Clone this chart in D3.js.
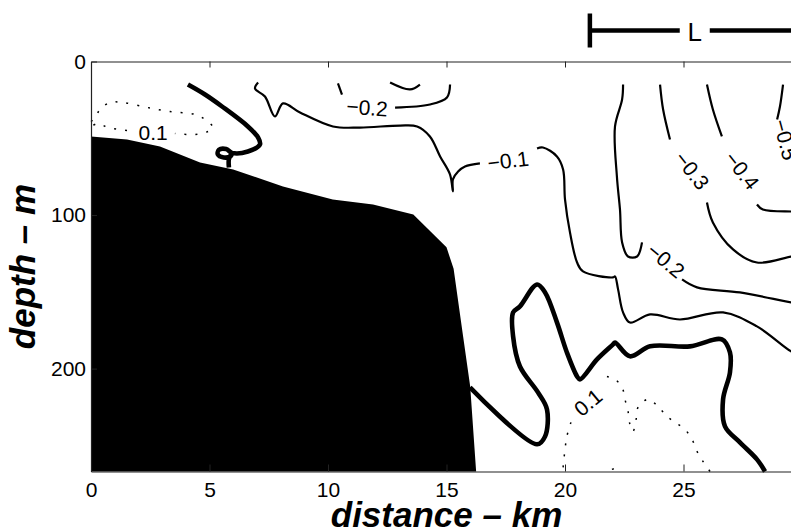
<!DOCTYPE html>
<html>
<head>
<meta charset="utf-8">
<style>
  body { margin: 0; background: #fff; }
  svg { display: block; font-family: "Liberation Sans", Arial, Helvetica, sans-serif; }
  .tick text { font-size: 21px; fill: #000; }
  .axis-title { font-size: 35px; font-weight: bold; font-style: italic; }
  .clabel { font-size: 21px; }
</style>
<script src="https://d3js.org/d3.v7.min.js"></script>
</head>
<body>
<div class="chart"></div>
<script>
// tick values
const xTicks = [0, 5, 10, 15, 20, 25];
const yTicks = [0, 100, 200];

// bottom profile [km, depth m]
const bathymetry = [[0, 48.8], [1.52, 50.8], [2.91, 55.3], [4.6, 65.8], [6.0, 70.3], [8.1, 81.4],
  [10.2, 89.8], [11.9, 93.1], [13.6, 99.6], [15.0, 121], [15.3, 135], [15.7, 179], [16.0, 211.6], [16.25, 267]];

// contour pieces, each [km, depth]; gaps are where the labels sit
const zeroShelf = [[4.09, 15], [4.81, 21.5], [5.53, 29.3], [6.62, 42.3], [7.05, 49.5], [7.13, 54],
  [6.62, 58.6], [5.95, 59.5], [5.7, 57.0], [5.4, 57.5], [5.35, 60.5], [5.6, 62.5], [5.9, 61.5],
  [5.95, 59.5], [5.82, 63.5], [5.82, 69]];
const zeroOffshore = [[15.99, 212.2], [18.82, 249.3], [19.16, 244.1], [19.24, 226.6], [18.86, 215.5],
  [18.10, 198.6], [17.81, 179], [17.81, 163.4], [18.10, 159.5], [18.82, 145.2], [19.16, 150.4],
  [19.66, 169.9], [20.08, 189.5], [20.51, 205.1], [20.63, 207], [21.35, 194], [22.03, 184.2],
  [22.11, 183], [22.74, 192], [23.59, 185.5], [25.27, 185.5], [26.62, 181], [26.96, 189.5],
  [26.96, 202.5], [26.67, 220], [26.75, 237.6], [27.38, 248], [28.10, 259.1], [28.44, 267]];

const m01a = [[7.05, 13.7], [6.92, 17.6], [7.34, 22.8], [7.76, 35.8], [8.10, 27.3], [8.82, 33.2],
  [10.21, 42.3], [11.35, 43.0], [13.04, 41.7], [13.76, 42.3], [14.30, 48.8], [14.73, 61.8],
  [15.15, 73.6], [15.27, 84.6], [15.27, 76.8], [15.49, 71.6], [15.78, 68.4], [16.41, 66.4]];
const m01b = [[18.82, 56.6], [19.07, 56.0], [19.66, 61.8], [19.92, 70.3], [20.0, 89.8], [20.21, 111.3],
  [20.51, 130.9], [20.76, 136.7], [22.03, 140.6], [22.11, 140], [22.24, 148.4], [22.45, 163.4],
  [22.74, 170], [23.59, 164.7], [24.85, 168], [26.67, 163.4], [28.10, 172.5], [29.54, 188.8], [30, 192]];

const m02a = [[10.42, 14.3], [10.59, 21.5]];
const m02b = [[12.83, 30], [14.30, 28], [15.02, 23.4], [15.15, 15]];
const m02c = [[12.62, 13.7], [13.46, 18.2], [13.88, 15]];
const m02d = [[22.45, 15], [22.41, 24.7], [22.11, 42.3], [22.19, 74.9], [22.32, 96.4], [22.41, 117.8],
  [22.66, 127], [23.04, 127], [23.25, 117.8]];
const m02e = [[24.94, 141.9], [25.57, 147.1], [27.38, 150.4], [29.54, 156.9], [30, 158]];

const m03a = [[24.01, 15], [24.14, 31.3], [24.43, 50.8]];
const m03b = [[25.99, 91.8], [26.24, 104.8], [27.09, 122.4], [28.10, 130.9], [29.54, 127], [30, 126]];

const m04a = [[25.99, 15], [26.24, 31.3], [26.62, 48.8]];
const m04b = [[28.10, 93.1], [28.35, 96.4], [29.54, 97.7], [30, 97.7]];

const m05a = [[29.20, 15], [29.07, 29.3], [28.95, 37.8]];

const p01a = [[0, 39.1], [0.17, 36.5], [0.38, 31.3], [0.80, 26.7], [1.35, 26.7], [2.36, 29.9], [3.33, 32.6],
  [4.39, 34.5], [4.81, 37.8], [5.15, 43], [4.94, 45.6], [4.39, 47.5], [3.54, 46.9]];
const p01b = [[1.52, 44.9], [0.72, 43], [0.30, 40.4], [0, 42.3]];
const p01c = [[19.92, 264.3], [20.0, 252.6], [20.08, 244.1], [20.25, 235]];
const p01d = [[21.77, 205.1], [22.11, 207], [22.41, 212.2], [22.53, 220], [22.66, 227.9], [22.74, 236.3],
  [22.87, 240.9], [23.0, 233], [23.08, 225.3], [23.5, 220], [23.92, 224.6], [24.3, 231.1], [24.64, 235],
  [25.06, 239.6], [25.36, 246.1], [25.57, 253.9], [25.82, 260.4], [26.12, 267]];
const p01e = [[21.98, 265.6], [22.4, 263.5]];

const contourLevels = [0, 0, -0.1, -0.1, -0.2, -0.2, -0.2, -0.2, -0.2, -0.3, -0.3, -0.4, -0.4, -0.5,
  0.1, 0.1, 0.1, 0.1, 0.1];
const contourPieces = [zeroShelf, zeroOffshore, m01a, m01b, m02a, m02b, m02c, m02d, m02e, m03a, m03b,
  m04a, m04b, m05a, p01a, p01b, p01c, p01d, p01e];

// contour labels: [km, depth, angle]
const labelText = ["0.1", "−0.2", "−0.1", "−0.2", "−0.3", "−0.4", "−0.5", "0.1"];
const labelAt = [[2.62, 46.2, 0], [11.65, 30, 4], [17.6, 64.5, -7], [24.26, 129.6, 40],
  [25.36, 71, 52], [27.47, 71, 52], [29.3, 50.8, 75], [20.97, 222, -40]];

// length scale bar along the top, km
const scaleBar = [21.05, 29.9];
const scaleBarLabel = "L";

const width = 791, height = 532;
const maxDepth = 267;

const svg = d3.select(".chart").append("svg")
    .attr("width", width)
    .attr("height", height)
    .style("background", "#fff");

const x = d3.scaleLinear().domain([0, 30]).range([91, 802]);
const y = d3.scaleLinear().domain([0, maxDepth]).range([61.5, 471.5]);

const line = d3.line()
    .x(d => x(d[0]))
    .y(d => y(d[1]))
    .curve(d3.curveCatmullRom.alpha(0.5));

// contours
svg.append("g").selectAll("path")
    .data(contourPieces)
    .enter().append("path")
    .attr("d", line)
    .attr("fill", "none")
    .attr("stroke", "#000")
    .attr("stroke-linejoin", "round")
    .attr("stroke-width", (d, i) => contourLevels[i] === 0 ? 4.6 : (contourLevels[i] > 0 ? 1.5 : 2.2))
    .attr("stroke-dasharray", (d, i) => contourLevels[i] > 0 ? "2,9" : null);

// bottom, filled black
const area = d3.area()
    .x(d => x(d[0]))
    .y0(y(maxDepth))
    .y1(d => y(d[1]));
svg.append("path")
    .datum(bathymetry)
    .attr("d", area)
    .attr("fill", "#000");

// contour labels
svg.append("g").selectAll("text")
    .data(labelText)
    .enter().append("text")
    .attr("class", "clabel")
    .attr("text-anchor", "middle")
    .attr("dominant-baseline", "central")
    .attr("transform", (d, i) => `translate(${x(labelAt[i][0])},${y(labelAt[i][1])}) rotate(${labelAt[i][2]})`)
    .text(d => d);

// axes, ticks pointing in
const axisColor = "#222";
svg.append("g")
    .attr("transform", `translate(0,${y(0)})`)
    .style("color", axisColor)
    .call(d3.axisTop(x).tickValues(xTicks.slice(1)).tickSizeInner(-6).tickSizeOuter(0).tickFormat(""));
svg.append("g")
    .attr("transform", `translate(0,${y(maxDepth)})`)
    .style("color", axisColor)
    .call(d3.axisBottom(x).tickValues(xTicks).tickSizeInner(-7).tickSizeOuter(0).tickPadding(11));
svg.append("g")
    .attr("transform", `translate(${x(0)},0)`)
    .style("color", axisColor)
    .call(d3.axisLeft(y).tickValues(yTicks).tickSizeInner(-6).tickSizeOuter(0).tickPadding(5));
svg.selectAll(".domain").attr("stroke-width", 1.2);

// axis titles
svg.append("text")
    .attr("class", "axis-title")
    .attr("text-anchor", "middle")
    .attr("x", (x(0) + x(30)) / 2)
    .attr("y", 527)
    .text("distance – km");
svg.append("text")
    .attr("class", "axis-title")
    .attr("text-anchor", "middle")
    .attr("transform", `translate(35,${(y(0) + y(maxDepth)) / 2}) rotate(-90)`)
    .text("depth – m");

// scale bar
const barY = 30.5, gap = 15;
const bx0 = x(scaleBar[0]), bx1 = x(scaleBar[1]), bmid = (bx0 + bx1) / 2;
const bar = svg.append("g").attr("stroke", "#000").attr("stroke-width", 4.5);
bar.append("line").attr("x1", bx0).attr("x2", bx0).attr("y1", barY - 17).attr("y2", barY + 17);
bar.append("line").attr("x1", bx1).attr("x2", bx1).attr("y1", barY - 17).attr("y2", barY + 17);
bar.append("line").attr("x1", bx0).attr("x2", bmid - gap).attr("y1", barY).attr("y2", barY);
bar.append("line").attr("x1", bmid + gap).attr("x2", bx1).attr("y1", barY).attr("y2", barY);
svg.append("text")
    .attr("x", bmid)
    .attr("y", barY + 10)
    .attr("text-anchor", "middle")
    .style("font-size", "26px")
    .text(scaleBarLabel);
</script>
</body>
</html>
